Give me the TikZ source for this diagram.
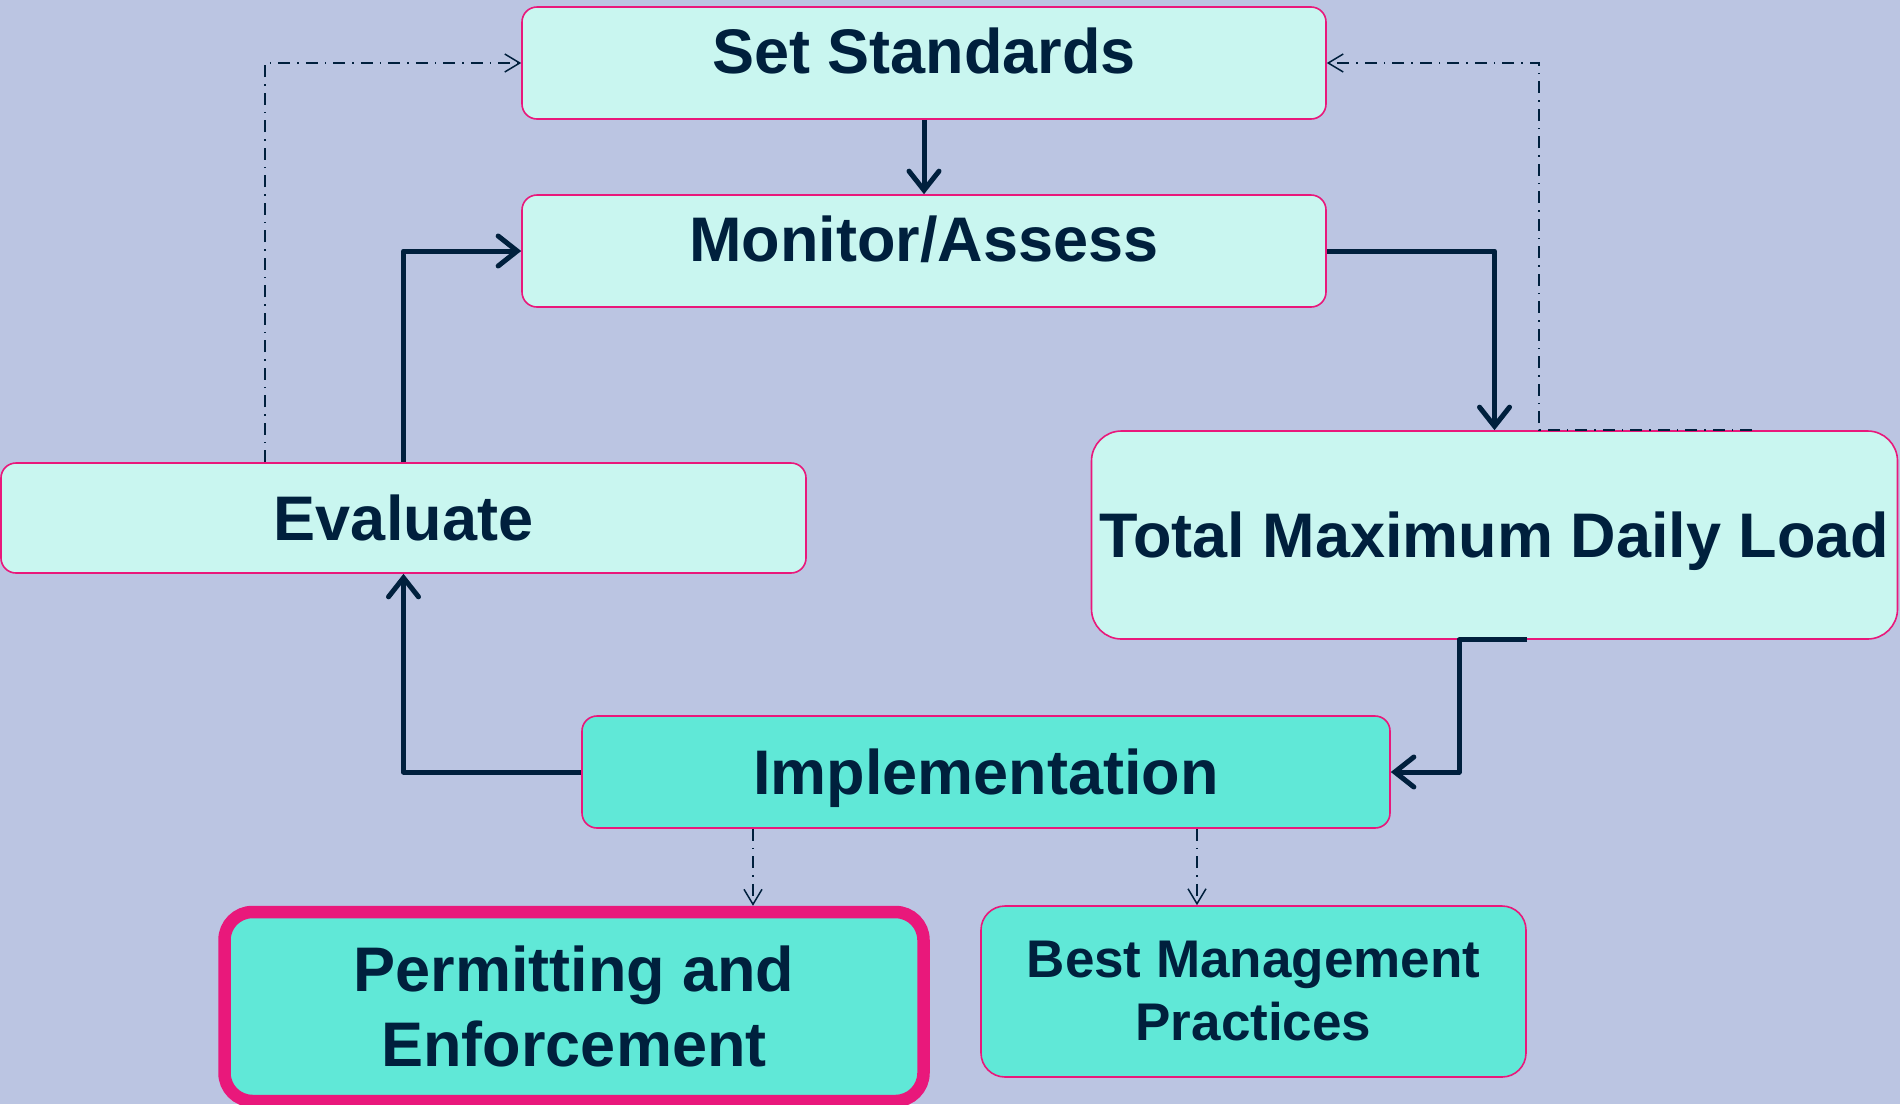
\documentclass[tikz,border=0pt]{standalone}
\usepackage{fontspec}
\setmainfont{Liberation Sans}
\usetikzlibrary{arrows.meta}

\definecolor{bgblue}{RGB}{187,197,226}
\definecolor{palemint}{RGB}{201,246,240}
\definecolor{teal}{RGB}{96,232,215}
\definecolor{rose}{RGB}{233,24,123}
\definecolor{navy}{RGB}{0,32,61}

\tikzset{
  box/.style={rectangle, rounded corners=15pt, draw=rose, line width=1.6pt,
    inner sep=0pt, anchor=center, text=navy,
    font=\fontsize{63}{75}\selectfont\bfseries},
  oneline/.style={text height=45pt, text depth=0pt},
  raised/.style={text height=45pt, text depth=25pt},
  flow/.style={draw=navy, line width=5pt, line join=round,
    -{Straight Barb[length=19pt, width=30pt, line cap=round]}},
  feedback/.style={draw=navy, line width=1.5pt,
    dash pattern=on 12pt off 7pt on 1.5pt off 7pt,
    -{Straight Barb[length=15pt, width=18pt]}}
}

\begin{document}
\begin{tikzpicture}[x=1pt, y=-1pt]
  % canvas
  \fill[bgblue] (0,0) rectangle (1900,1104);
  \useasboundingbox (0,0) rectangle (1900,1104);

  % stages of the cycle
  \node[box, raised, fill=palemint, minimum width=804pt, minimum height=112pt]
    (set) at (924,63) {Set Standards};
  \node[box, raised, fill=palemint, minimum width=804pt, minimum height=112pt]
    (mon) at (924,251) {Monitor/Assess};
  \node[box, oneline, fill=palemint, minimum width=805pt, minimum height=110pt]
    (eval) at (403.5,518) {Evaluate};
  \node[box, oneline, fill=palemint, rounded corners=30pt,
    minimum width=806pt, minimum height=208pt]
    (tmdl) at (1494.5,535) {Total Maximum Daily Load};
  \node[box, oneline, fill=teal, minimum width=808pt, minimum height=112pt]
    (impl) at (986,772) {Implementation};
  \node[box, fill=teal, align=center, line width=12.5pt, rounded corners=28pt,
    minimum width=699pt, minimum height=189pt]
    (perm) at (574,1006.5) {Permitting and\\Enforcement};
  \node[box, fill=teal, align=center, rounded corners=24pt,
    font=\fontsize{53}{63}\selectfont\bfseries,
    minimum width=545pt, minimum height=171pt]
    (bmp) at (1253.5,991.5) {Best Management\\Practices};

  % main cycle
  \draw[flow] (set) -- (mon);
  \draw[flow] (mon.east) -| (tmdl.north);
  \coordinate (tout) at ([xshift=32.5pt]tmdl.south);
  \coordinate (tbend) at ([xshift=-35.5pt]tmdl.south);
  \draw[flow] (tout) -- (tbend) |- (impl.east);
  \draw[flow] (impl.west) -| (eval.south);
  \draw[flow] (eval.north) |- (mon.west);

  % feedback to the standards
  \coordinate (efb) at ([xshift=-138.5pt]eval.north);
  \draw[feedback] (efb) |- (set.west);
  \coordinate (tfb) at ([xshift=257.5pt]tmdl.north);
  \coordinate (tup) at ([xshift=44.5pt]tmdl.north);
  \draw[feedback] (tfb) -- (tup) |- (set.east);

  % implementation routes
  \coordinate (ip) at ([xshift=-233pt]impl.south);
  \coordinate (ib) at ([xshift=211pt]impl.south);
  \draw[feedback] (ip) -- (ip |- perm.north);
  \draw[feedback] (ib) -- (ib |- bmp.north);
\end{tikzpicture}
\end{document}
